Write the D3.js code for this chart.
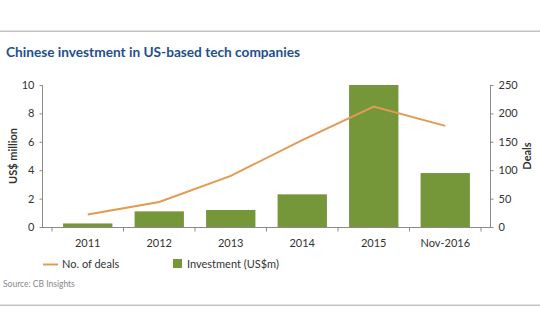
<!DOCTYPE html>
<html>
<head>
<meta charset="utf-8">
<script src="https://cdn.jsdelivr.net/npm/d3@7"></script>
<style>
  body { margin: 0; background: #fff; }
  svg text { font-family: Lato, "Open Sans", sans-serif; }
</style>
</head>
<body>
<svg id="chart" width="540" height="334"></svg>
<script>
  // data
  const years = ['2011', '2012', '2013', '2014', '2015', 'Nov-2016'];
  const investment = [0.25, 1.1, 1.2, 2.3, 10, 3.8];   // US$ million
  const deals = [22, 44, 90, 153, 212, 178];
  const leftTicks = [0, 2, 4, 6, 8, 10];
  const rightTicks = [0, 50, 100, 150, 200, 250];

  const green = '#76963a';
  const orange = '#e39a52';
  const axisGrey = '#8a8a8a';

  const svg = d3.select('#chart');

  // frame lines
  svg.append('rect').attr('x', 0).attr('y', 30.5).attr('width', 540).attr('height', 1.5).attr('fill', '#c4c4c4');
  svg.append('rect').attr('x', 0).attr('y', 304.5).attr('width', 540).attr('height', 1.5).attr('fill', '#c4c4c4');

  svg.append('text')
    .attr('x', 6).attr('y', 57)
    .attr('fill', '#1d4f8f')
    .attr('font-size', 14).attr('font-weight', 'bold')
    .attr('textLength', 294).attr('lengthAdjust', 'spacingAndGlyphs')
    .text('Chinese investment in US-based tech companies');

  const x = d3.scaleBand().domain(years).range([52, 481]).paddingInner(0.31).paddingOuter(0.155);
  const yL = d3.scaleLinear().domain([0, 10]).range([227, 85]);
  const yR = d3.scaleLinear().domain([0, 250]).range([227, 85]);

  // bars
  svg.append('g').selectAll('rect')
    .data(investment)
    .join('rect')
    .attr('x', (d, i) => x(years[i]))
    .attr('width', x.bandwidth())
    .attr('y', d => yL(d))
    .attr('height', d => yL(0) - yL(d))
    .attr('fill', green);

  // line
  const line = d3.line()
    .x((d, i) => x(years[i]) + x.bandwidth() / 2)
    .y(d => yR(d));
  svg.append('path')
    .datum(deals)
    .attr('d', line)
    .attr('fill', 'none')
    .attr('stroke', orange)
    .attr('stroke-width', 2);

  // left axis
  const gl = svg.append('g').attr('transform', 'translate(42.5,0)')
    .call(d3.axisLeft(yL).tickValues(leftTicks).tickSize(3).tickPadding(5));
  // right axis
  const gr = svg.append('g').attr('transform', 'translate(490.5,0)')
    .call(d3.axisRight(yR).tickValues(rightTicks).tickSize(3).tickPadding(5));
  // bottom axis (band edges as ticks)
  const edges = years.map(d => x(d) - x.step() * x.paddingInner() / 2).concat([481]);
  const gb = svg.append('g').attr('transform', 'translate(0,227.5)');
  gb.append('line').attr('x1', 42).attr('x2', 491).attr('stroke', axisGrey);
  gb.selectAll('line.tk').data(edges).join('line').attr('class', 'tk')
    .attr('x1', d => d).attr('x2', d => d).attr('y1', 0).attr('y2', 4)
    .attr('stroke', axisGrey);
  gb.selectAll('text').data(years).join('text')
    .attr('x', d => x(d) + x.bandwidth() / 2).attr('y', 19)
    .attr('text-anchor', 'middle').attr('font-size', 11).attr('fill', '#333')
    .text(d => d);

  [gl, gr].forEach(g => {
    g.select('.domain').attr('stroke', axisGrey).attr('d', 'M0,85V227');
    g.selectAll('.tick line').attr('stroke', axisGrey);
    g.selectAll('.tick text').attr('font-size', 11).attr('fill', '#333')
      .attr('font-family', 'Lato, sans-serif');
  });

  // axis titles
  svg.append('text')
    .attr('transform', 'translate(17,156) rotate(-90)')
    .attr('text-anchor', 'middle').attr('font-size', 11).attr('font-weight', 'bold').attr('fill', '#333')
    .text('US$ million');
  svg.append('text')
    .attr('transform', 'translate(531,156) rotate(-90)')
    .attr('text-anchor', 'middle').attr('font-size', 11).attr('font-weight', 'bold').attr('fill', '#333')
    .text('Deals');

  // legend
  const lg = svg.append('g');
  lg.append('line').attr('x1', 43).attr('x2', 58).attr('y1', 264.5).attr('y2', 264.5)
    .attr('stroke', orange).attr('stroke-width', 2);
  lg.append('text').attr('x', 62).attr('y', 268).attr('font-size', 11).attr('fill', '#333').text('No. of deals');
  lg.append('rect').attr('x', 173).attr('y', 259).attr('width', 9).attr('height', 9).attr('fill', green);
  lg.append('text').attr('x', 187).attr('y', 268).attr('font-size', 11).attr('fill', '#333').text('Investment (US$m)');

  svg.append('text').attr('x', 3).attr('y', 287).attr('font-size', 8.5).attr('fill', '#888')
    .text('Source: CB Insights');
</script>
</body>
</html>
